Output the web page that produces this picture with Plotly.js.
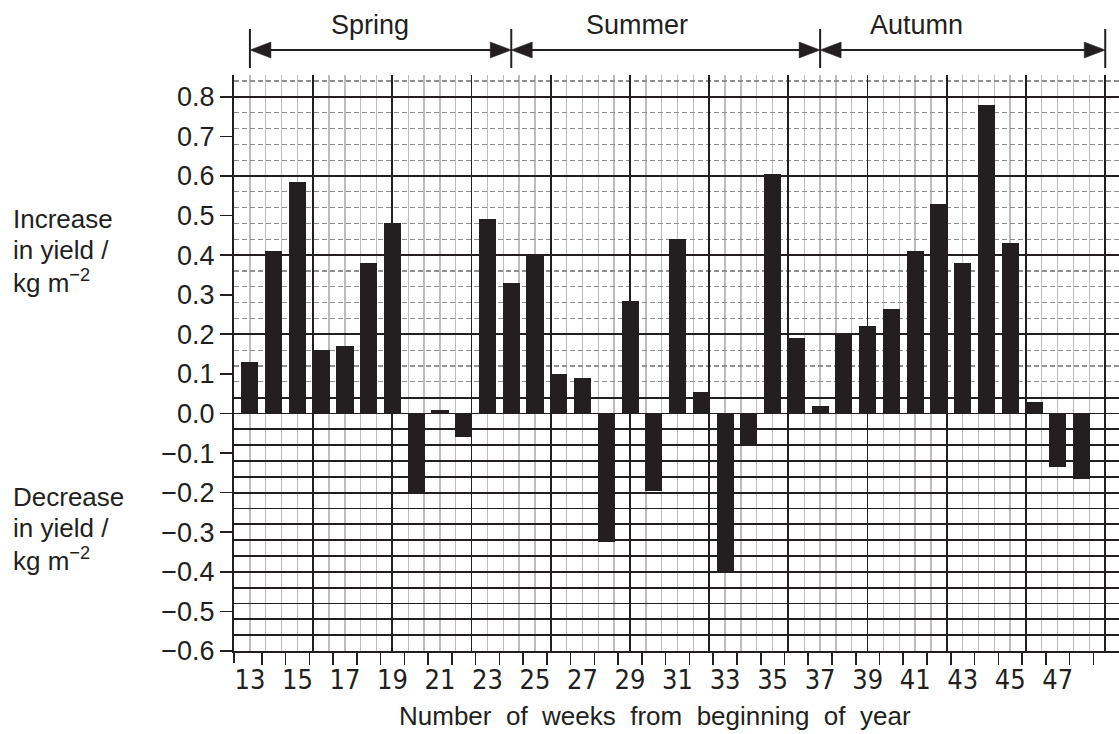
<!DOCTYPE html>
<html>
<head>
<meta charset="utf-8">
<script src="https://cdn.plot.ly/plotly-3.0.1.min.js"></script>
<style>
  html, body { margin: 0; padding: 0; background: #ffffff; }
  #chart { width: 1119px; height: 734px; }
</style>
</head>
<body>
<div id="chart"></div>
<script>
// ---- data ----
const weeks = [13, 14, 15, 16, 17, 18, 19, 20, 21, 22, 23, 24, 25, 26, 27, 28, 29, 30,
               31, 32, 33, 34, 35, 36, 37, 38, 39, 40, 41, 42, 43, 44, 45, 46, 47, 48];
const yieldChange = [0.13, 0.41, 0.585, 0.16, 0.17, 0.38, 0.48, -0.20, 0.01, -0.06, 0.49, 0.33,
                     0.40, 0.10, 0.09, -0.325, 0.285, -0.195, 0.44, 0.055, -0.40, -0.08, 0.605, 0.19,
                     0.02, 0.20, 0.22, 0.265, 0.41, 0.53, 0.38, 0.78, 0.43, 0.03, -0.135, -0.165];
const xTickWeeks = [13, 15, 17, 19, 21, 23, 25, 27, 29, 31, 33, 35, 37, 39, 41, 43, 45, 47];
const xTickLabels = ['13', '15', '17', '19', '21', '23', '25', '27', '29', '31', '33', '35', '37', '39', '41', '43', '45', '47'];
const yTicks = [-0.6, -0.5, -0.4, -0.3, -0.2, -0.1, 0.0, 0.1, 0.2, 0.3, 0.4, 0.5, 0.6, 0.7, 0.8];
const seasonNames = ['Spring', 'Summer', 'Autumn'];
const seasonStart = [13, 24, 37];
const seasonEnd = [24, 37, 49];
const xTitle = 'Number of weeks from beginning of year';
const increaseLines = ['Increase', 'in yield /', 'kg m<sup>−2</sup>'];
const decreaseLines = ['Decrease', 'in yield /', 'kg m<sup>−2</sup>'];

// ---- styling / layout ----
const INK = '#231f20';
const W = 1119, H = 734;
const M = { l: 234, r: 0, t: 75, b: 83 };
const plotW = W - M.l - M.r, plotH = H - M.t - M.b;
const xMin = 12.33, xMax = 49.58;
const yMin = -0.6, yMax = 0.855;
const pxPerWeek = plotW / (xMax - xMin);
const px2paperY = (py) => (H - M.b - py) / plotH;
const px2paperX = (px) => (px - M.l) / plotW;
const FONT = 'Liberation Sans, Arial, sans-serif';

// graph-paper grid (0.04 units vertically, 2/3 week horizontally)
const darkRows = [], lightRows = [];
for (let k = -15; k <= 21; k++) {
  const v = Math.round(k * 0.04 * 1000) / 1000;
  if (k <= 1 || k % 5 === 0) darkRows.push(v); else lightRows.push(v);
}
const boundaries = weeks.map(w => w + 0.5);

const traces = [
  {
    type: 'bar', x: weeks, y: yieldChange, width: 0.72,
    marker: { color: INK, line: { width: 0 } },
    hoverinfo: 'skip', showlegend: false
  },
  { type: 'scatter', mode: 'none', x: weeks, y: yieldChange, xaxis: 'x2', yaxis: 'y', hoverinfo: 'skip', showlegend: false },
  { type: 'scatter', mode: 'none', x: weeks, y: yieldChange, xaxis: 'x', yaxis: 'y2', hoverinfo: 'skip', showlegend: false }
];

const annotations = [];
const shapes = [];

// season arrows (shapes) and labels
const arrowY = px2paperY(50);
const headLen = 21 / pxPerWeek;
const headHalf = 8 / plotH;
const labelX = [18.05, 29.3, 41.05];
seasonNames.forEach((name, i) => {
  const s = seasonStart[i], e = seasonEnd[i];
  shapes.push({
    type: 'line', xref: 'x', yref: 'paper', x0: s + headLen * 0.5, x1: e - headLen * 0.5, y0: arrowY, y1: arrowY,
    line: { color: INK, width: 2 }
  });
  shapes.push({
    type: 'path', xref: 'x', yref: 'paper',
    path: `M ${s},${arrowY} L ${s + headLen},${arrowY + headHalf} L ${s + headLen},${arrowY - headHalf} Z`,
    fillcolor: INK, line: { color: INK, width: 0.5 }
  });
  shapes.push({
    type: 'path', xref: 'x', yref: 'paper',
    path: `M ${e},${arrowY} L ${e - headLen},${arrowY + headHalf} L ${e - headLen},${arrowY - headHalf} Z`,
    fillcolor: INK, line: { color: INK, width: 0.5 }
  });
  annotations.push({
    xref: 'x', x: labelX[i], yref: 'paper', y: px2paperY(25),
    text: name, showarrow: false, xanchor: 'center', yanchor: 'middle',
    font: { family: FONT, size: 27, color: INK }
  });
});
// season separators
Array.from(new Set(seasonStart.concat(seasonEnd))).forEach(b => shapes.push({
  type: 'line', xref: 'x', x0: b, x1: b, yref: 'paper', y0: px2paperY(29), y1: px2paperY(68),
  line: { color: INK, width: 2 }
}));

// side labels
const incY = [219, 250, 281], decY = [497, 528, 559];
increaseLines.forEach((t, i) => annotations.push({
  xref: 'paper', x: px2paperX(11), yref: 'paper', y: px2paperY(incY[i]),
  text: t, showarrow: false, xanchor: 'left', yanchor: 'middle',
  font: { family: FONT, size: 26, color: INK }
}));
decreaseLines.forEach((t, i) => annotations.push({
  xref: 'paper', x: px2paperX(11), yref: 'paper', y: px2paperY(decY[i]),
  text: t, showarrow: false, xanchor: 'left', yanchor: 'middle',
  font: { family: FONT, size: 26, color: INK }
}));
// x axis title
annotations.push({
  xref: 'paper', x: px2paperX(655), yref: 'paper', y: px2paperY(716),
  text: xTitle.split(' ').join(' \u00a0'), showarrow: false, xanchor: 'center', yanchor: 'middle',
  font: { family: FONT, size: 26, color: INK }
});

// small axis overhangs at the origin corner
shapes.push({ type: 'line', xref: 'paper', yref: 'paper', x0: px2paperX(221), x1: 0, y0: 0, y1: 0, line: { color: INK, width: 2 } });
shapes.push({ type: 'line', xref: 'paper', yref: 'paper', x0: 0, x1: 0, y0: 0, y1: px2paperY(663), line: { color: INK, width: 2 } });

const layout = {
  width: W, height: H, margin: M,
  paper_bgcolor: '#ffffff', plot_bgcolor: '#ffffff',
  showlegend: false, bargap: 0,
  xaxis: {
    range: [xMin, xMax], autorange: false, fixedrange: true,
    tickmode: 'linear', tick0: xMin, dtick: 10 / 3,
    showgrid: true, gridcolor: INK, gridwidth: 1.8,
    ticks: '', showticklabels: false, zeroline: false, showline: false,
    minor: { tickmode: 'linear', tick0: xMin, dtick: 2 / 3, showgrid: true, gridcolor: '#bdbdbd', gridwidth: 1.4 }
  },
  xaxis2: {
    overlaying: 'x', anchor: 'y', side: 'bottom',
    range: [xMin, xMax], autorange: false, fixedrange: true,
    tickmode: 'array', tickvals: xTickWeeks, ticktext: xTickLabels,
    ticks: 'outside', ticklen: 4, tickcolor: 'rgba(0,0,0,0)',
    tickfont: { family: 'Liberation Sans Narrow, DejaVu Sans Condensed, Liberation Sans, sans-serif', size: 27, color: INK },
    showgrid: false, zeroline: false, showline: true, linecolor: INK, linewidth: 2,
    minor: { tickmode: 'array', tickvals: boundaries, ticks: 'outside', ticklen: 12, tickwidth: 1.6, tickcolor: INK, showgrid: false }
  },
  yaxis: {
    range: [yMin, yMax], autorange: false, fixedrange: true,
    tickmode: 'array', tickvals: darkRows,
    showgrid: true, gridcolor: INK, gridwidth: 1.8,
    ticks: '', showticklabels: false, zeroline: false, showline: false,
    minor: { tickmode: 'array', tickvals: lightRows, showgrid: true, gridcolor: '#8f8f8f', gridwidth: 1.2, griddash: '5px,3px' }
  },
  yaxis2: {
    overlaying: 'y', anchor: 'x', side: 'left',
    range: [yMin, yMax], autorange: false, fixedrange: true,
    tickmode: 'array', tickvals: yTicks, tickformat: '.1f',
    ticks: 'outside', ticklen: 12, tickwidth: 1.6, tickcolor: INK,
    tickfont: { family: FONT, size: 27, color: INK },
    showgrid: false, zeroline: false, showline: true, linecolor: INK, linewidth: 2
  },
  annotations: annotations,
  shapes: shapes
};

Plotly.newPlot('chart', traces, layout, { displayModeBar: false, staticPlot: true });
</script>
</body>
</html>
